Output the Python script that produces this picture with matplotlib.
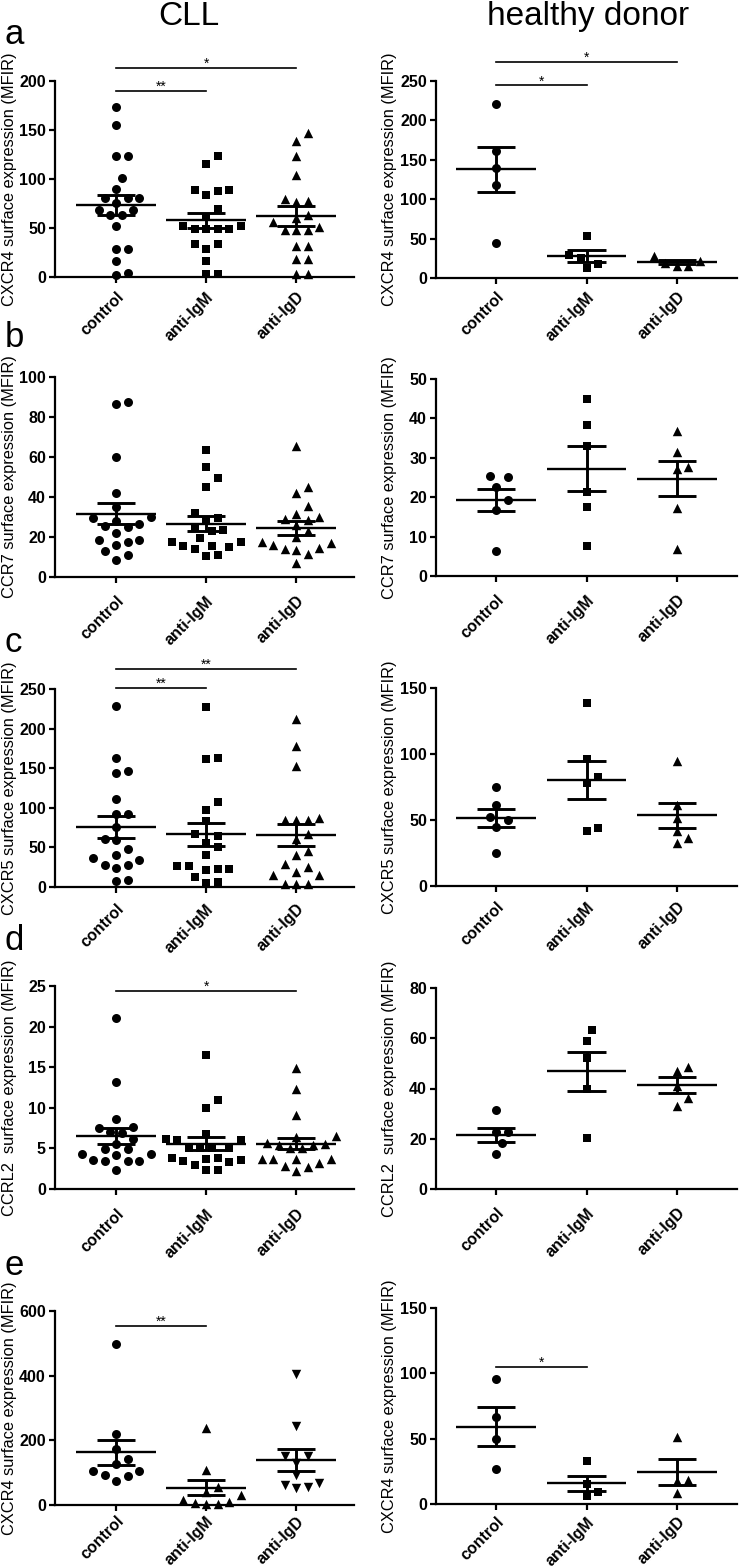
import numpy as np
import matplotlib
matplotlib.use("Agg")
import matplotlib.pyplot as plt
from matplotlib.transforms import ScaledTranslation

plt.rcParams['font.family'] = ['Liberation Sans', 'DejaVu Sans']

W, H = 742, 1566
groups = ["control", "anti-IgM", "anti-IgD"]

# ---------------- data ----------------
# a: CXCR4
a_cll_control = [173.5, 154.8, 123.5, 123.5, 101.4, 90, 80.6, 80.6, 80.6, 75.5, 68, 68, 63, 63, 51.7, 29, 29, 16, 4, 1.7]
a_cll_igm = [123.5, 115, 89, 87.4, 88.4, 83.3, 69, 61, 52, 52, 49, 49, 49, 49, 34, 34, 29, 16, 3.4, 3.4]
a_cll_igd = [147, 138.4, 123.5, 104.4, 80, 78, 77, 63, 60, 51, 56, 48, 48, 48, 31.6, 31.6, 18, 18, 2.7, 2.7]
a_cll_mean = [73.8, 57.8, 61.9]
a_cll_sem = [10.2, 7.8, 10.3]

a_hd_control = [221, 161.5, 139, 118, 44]
a_hd_igm = [52.7, 29.5, 25, 18, 12.6]
a_hd_igd = [27.4, 19, 14.8, 15.6, 22]
a_hd_mean = [137.9, 27.4, 20.2]
a_hd_sem = [28.9, 7.6, 2.2]

# b: CCR7
b_cll_control = [86.3, 87.5, 60, 42, 35, 29.7, 30, 26.7, 27.8, 25, 25.3, 22, 18.7, 18.3, 17.5, 15.8, 13, 11.2, 8.3]
b_cll_igm = [63.3, 55, 49.5, 45, 32.2, 28.3, 29.3, 23.3, 22.8, 19.7, 17.5, 17.5, 15.3, 14.2, 15.7, 15.2, 10.3, 10.8, 25]
b_cll_igd = [65.5, 45, 42, 35.3, 31.7, 29, 28.7, 30, 23, 17.3, 17, 14.5, 13.3, 14, 16.2, 11.7, 7, 26, 20]
b_cll_mean = [31.7, 26.7, 24.7]
b_cll_sem = [5.4, 3.65, 3.5]

b_hd_control = [25.3, 25.1, 22.7, 19.2, 16.8, 6.4]
b_hd_igm = [44.9, 38.3, 32.9, 21.4, 17.5, 7.6]
b_hd_igd = [36.7, 31.4, 27.1, 27.6, 17.2, 6.9]
b_hd_mean = [19.3, 27.2, 24.7]
b_hd_sem = [2.85, 5.75, 4.4]

# c: CXCR5
c_cll_control = [228.5, 163, 146.7, 144, 111, 92.7, 92.7, 75.9, 61, 59, 48.5, 33.7, 37, 27.4, 40, 27.4, 24.5, 7.2, 8.4]
c_cll_igm = [227.7, 161, 163, 107.5, 97.8, 83, 67.5, 65, 40, 26.6, 26.6, 23, 22, 23, 12.6, 5, 6, 55.6, 50.6]
c_cll_igd = [211.6, 178, 152.6, 85, 85, 85, 87, 67, 61, 40, 46, 29.5, 25, 14.7, 14.7, 19, 4.2, 4.2, 4.2]
c_cll_mean = [75.9, 66.6, 65.3]
c_cll_sem = [14.35, 14.35, 13.95]

c_hd_control = [75.2, 61.3, 49.9, 52.4, 44.8, 25.3]
c_hd_igm = [138.6, 96.5, 82.8, 77.8, 41.8, 44]
c_hd_igd = [95, 61.3, 51.2, 41.8, 32.2, 36]
c_hd_mean = [51.7, 80.3, 53.7]
c_hd_sem = [6.85, 14.7, 9.5]

# d: CCRL2
d_cll_control = [21.1, 13.2, 8.65, 7.66, 7.46, 6.97, 6.84, 6.2, 5.6, 4.9, 4.9, 4.3, 4.3, 4.2, 3.5, 3.6, 3.4, 3.4, 2.4]
d_cll_igm = [16.5, 10.9, 10, 6.76, 6.1, 6.0, 6.0, 5.1, 5.0, 5.0, 5.0, 3.5, 3.3, 3.8, 3.8, 3.6, 3.7, 3.0, 2.3, 2.4]
d_cll_igd = [14.9, 12.3, 9.1, 6.35, 6.5, 5.6, 5.7, 5.4, 5.4, 5.0, 5.0, 3.7, 3.7, 3.7, 3.7, 2.8, 3.2, 2.25, 2.65]
d_cll_mean = [6.56, 5.6, 5.6]
d_cll_sem = [0.97, 0.8, 0.72]

d_hd_control = [31.5, 22.6, 22.6, 18.2, 14]
d_hd_igm = [63.2, 59, 52, 40, 20.2]
d_hd_igd = [47, 48.7, 41, 33, 36.1]
d_hd_mean = [21.55, 46.9, 41.4]
d_hd_sem = [2.9, 7.75, 3.05]

# e: CXCR4 (second experiment)
e_cll_control = [499, 219, 172, 141, 126.6, 106, 104, 92.6, 89.5, 75]
e_cll_igm = [236.7, 108, 56.6, 41, 30.9, 15.4, 5, 3, 3, 10]
e_cll_igd = [406.5, 244, 151, 151, 128.6, 92.6, 61.7, 51.5, 56.6, 69]
e_cll_mean = [162.6, 53.5, 139]
e_cll_sem = [39.6, 23.15, 34.5]

e_hd_control = [95.6, 66.2, 49.6, 26.6]
e_hd_igm = [33.2, 15.1, 6.4, 9.5]
e_hd_igd = [51.6, 18.4, 17.9, 8.2]
e_hd_mean = [59.3, 15.8, 24.3]
e_hd_sem = [14.7, 5.9, 9.8]

ylabels = ["CXCR4 surface expression (MFIR)", "CCR7 surface expression (MFIR)",
           "CXCR5 surface expression (MFIR)", "CCRL2  surface expression (MFIR)",
           "CXCR4 surface expression (MFIR)"]
panel_letters = ["a", "b", "c", "d", "e"]

cll_yticks = [[0, 50, 100, 150, 200], [0, 20, 40, 60, 80, 100], [0, 50, 100, 150, 200, 250],
              [0, 5, 10, 15, 20, 25], [0, 200, 400, 600]]
hd_yticks = [[0, 50, 100, 150, 200, 250], [0, 10, 20, 30, 40, 50], [0, 50, 100, 150],
             [0, 20, 40, 60, 80], [0, 50, 100, 150]]

# significance brackets: (from group, to group, height, label)
a_cll_sig = [(0, 1, 190, "**"), (0, 2, 213, "*")]
a_hd_sig = [(0, 1, 244.5, "*"), (0, 2, 274, "*")]
c_cll_sig = [(0, 1, 251, "**"), (0, 2, 275, "**")]
d_cll_sig = [(0, 2, 24.4, "*")]
e_cll_sig = [(0, 1, 553, "**")]
e_hd_sig = [(0, 1, 105, "*")]

cll_panels = [
    ([a_cll_control, a_cll_igm, a_cll_igd], a_cll_mean, a_cll_sem, a_cll_sig, ['o', 's', '^']),
    ([b_cll_control, b_cll_igm, b_cll_igd], b_cll_mean, b_cll_sem, [], ['o', 's', '^']),
    ([c_cll_control, c_cll_igm, c_cll_igd], c_cll_mean, c_cll_sem, c_cll_sig, ['o', 's', '^']),
    ([d_cll_control, d_cll_igm, d_cll_igd], d_cll_mean, d_cll_sem, d_cll_sig, ['o', 's', '^']),
    ([e_cll_control, e_cll_igm, e_cll_igd], e_cll_mean, e_cll_sem, e_cll_sig, ['o', '^', 'v']),
]
hd_panels = [
    ([a_hd_control, a_hd_igm, a_hd_igd], a_hd_mean, a_hd_sem, a_hd_sig, ['o', 's', '^']),
    ([b_hd_control, b_hd_igm, b_hd_igd], b_hd_mean, b_hd_sem, [], ['o', 's', '^']),
    ([c_hd_control, c_hd_igm, c_hd_igd], c_hd_mean, c_hd_sem, [], ['o', 's', '^']),
    ([d_hd_control, d_hd_igm, d_hd_igd], d_hd_mean, d_hd_sem, [], ['o', 's', '^']),
    ([e_hd_control, e_hd_igm, e_hd_igd], e_hd_mean, e_hd_sem, e_hd_sig, ['o', 's', '^']),
]

# ---------------- layout (pixels) ----------------
left_x = (55, 354)
right_x = (436, 737)
left_rows = [(81, 277), (377, 577), (689, 887), (986, 1189), (1311, 1505)]
right_rows = [(81, 278), (379, 576), (688, 886), (988, 1189), (1308, 1504)]
left_xlim = (-0.678, 2.644)
right_xlim = (-0.663, 2.663)
left_xpad = [4.4, 7.3, 5.8, 8.0, 1.6]
right_xpad = [3.7, 7.3, 5.1, 7.3, 3.0]
letter_base = [44, 347, 652, 950, 1275]

fig = plt.figure(figsize=(W / 100, H / 100), dpi=100)


def axes_at(x0, x1, ytop, ybot):
    return fig.add_axes([x0 / W, 1 - ybot / H, (x1 - x0) / W, (ybot - ytop) / H])


marker_size = {'o': 42, 's': 36, '^': 46, 'v': 46}


def swarm_offsets(ax, values, center, diam_px=11.5):
    vals = np.asarray(values, float)
    t = ax.transData
    ypx = t.transform(np.column_stack([np.full(len(vals), center), vals]))[:, 1]
    px_per_unit = t.transform([[center + 1, 0]])[0, 0] - t.transform([[center, 0]])[0, 0]
    cands = [0.0]
    for k in range(1, 40):
        cands += [k * diam_px / 2, -k * diam_px / 2]
    placed = []
    offs = np.zeros(len(vals))
    for i in np.argsort(ypx):
        chosen = cands[-1]
        for c in cands:
            if all((c - px) ** 2 + (ypx[i] - py) ** 2 >= 0.97 * diam_px ** 2 for px, py in placed):
                chosen = c
                break
        placed.append((chosen, ypx[i]))
        offs[i] = chosen / px_per_unit
    return offs


def draw_panel(ax, data, mean, sem, sig, markers, yticks, ylabel, xlim, label_x, xpad):
    ax.set_xlim(*xlim)
    ax.set_ylim(0, yticks[-1])
    for sp in ['top', 'right']:
        ax.spines[sp].set_visible(False)
    for sp in ['left', 'bottom']:
        ax.spines[sp].set_linewidth(1.6)
    ax.set_yticks(yticks)
    ax.set_xticks(range(len(groups)))
    ax.set_xticklabels(groups, rotation=45, ha='right', va='top', rotation_mode='anchor',
                       fontweight='bold', fontsize=11)
    off = ScaledTranslation(0.04, 0, fig.dpi_scale_trans)
    for lab in ax.get_xticklabels():
        lab.set_transform(lab.get_transform() + off)
    for lab in ax.get_yticklabels():
        lab.set_fontweight('bold')
    ax.tick_params(axis='both', direction='out', length=4.5, width=1.6, labelsize=11.5, color='black')
    ax.tick_params(axis='y', pad=2)
    ax.tick_params(axis='x', pad=xpad)
    ax.set_ylabel(ylabel, fontsize=11.8)
    ax.yaxis.set_label_coords(label_x, 0.5)

    for i, vals in enumerate(data):
        offs = swarm_offsets(ax, vals, i)
        m = markers[i]
        ax.scatter(i + offs, vals, marker=m, s=marker_size[m], color='black', linewidths=0,
                   clip_on=False, zorder=3)
        ax.hlines(mean[i], i - 0.44, i + 0.44, color='black', lw=1.7, zorder=4)
        ax.hlines([mean[i] - sem[i], mean[i] + sem[i]], i - 0.21, i + 0.21, color='black', lw=2.1, zorder=4)
        ax.vlines(i, mean[i] - sem[i], mean[i] + sem[i], color='black', lw=2.1, zorder=4)

    for (g0, g1, yv, txt) in sig:
        ax.plot([g0, g1], [yv, yv], color='black', lw=1.2, clip_on=False, zorder=4)
        ax.text((g0 + g1) / 2, yv, txt, ha='center', va='baseline', fontsize=10, clip_on=False)


for r in range(5):
    axl = axes_at(left_x[0], left_x[1], *left_rows[r])
    data, mean, sem, sig, mk = cll_panels[r]
    draw_panel(axl, data, mean, sem, sig, mk, cll_yticks[r], ylabels[r], left_xlim, -0.127, left_xpad[r])
    axr = axes_at(right_x[0], right_x[1], *right_rows[r])
    data, mean, sem, sig, mk = hd_panels[r]
    draw_panel(axr, data, mean, sem, sig, mk, hd_yticks[r], ylabels[r], right_xlim, -0.130, right_xpad[r])
    fig.text(5 / W, 1 - letter_base[r] / H, panel_letters[r], fontsize=25, va='baseline', ha='left')

fig.text(189 / W, 1 - 25 / H, "CLL", fontsize=24, ha='center', va='baseline')
fig.text(588 / W, 1 - 25 / H, "healthy donor", fontsize=24, ha='center', va='baseline')

fig.savefig("out.png", dpi=100)
